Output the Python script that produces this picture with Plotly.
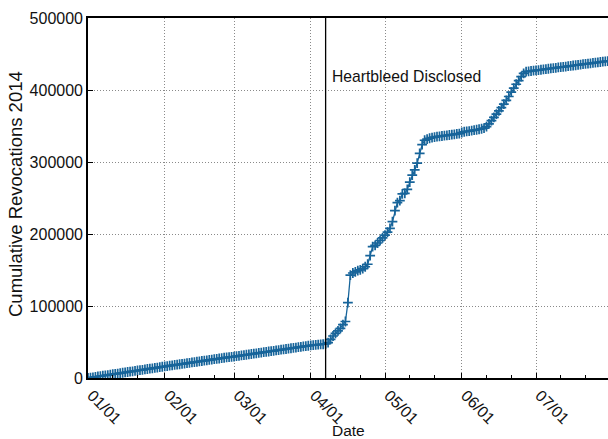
import plotly.graph_objects as go
import pandas as pd

start_date = "2014-01-01"
# cumulative revocations, one value per day starting 2014-01-01
jan = [0, 500, 1000, 1500, 2100, 2600, 3100, 3600, 4100, 4700, 5200, 5700, 6200, 6700, 7300, 7800,
       8300, 8800, 9300, 9900, 10400, 10900, 11400, 11900, 12500, 13000, 13500, 14000, 14500, 15100, 15600]
feb = [16100, 16600, 17100, 17600, 18100, 18600, 19100, 19600, 20100, 20600, 21100, 21600, 22100, 22600,
       23100, 23600, 24100, 24600, 25100, 25600, 26100, 26600, 27100, 27600, 28100, 28600, 29000, 29400]
mar = [29800, 30300, 30800, 31300, 31800, 32300, 32800, 33300, 33800, 34300, 34800, 35300, 35800, 36300,
       36800, 37300, 37800, 38300, 38800, 39300, 39800, 40300, 40800, 41300, 41800, 42300, 42800, 43300,
       43800, 44300, 44800]
apr = [45200, 45600, 46000, 46300, 46600, 46900, 47300, 49000, 53700, 58300, 62000, 65500, 69000, 74000,
       78500, 104600, 143000, 145800, 147500, 149000, 150300, 152000, 154500, 158000, 170000, 182400,
       184200, 187500, 191000, 194500]
may = [198500, 202500, 207900, 217100, 232400, 243500, 246300, 255600, 256500, 262000, 272000, 281900,
       289000, 298500, 312000, 324000, 330200, 331800, 333000, 333800, 334600, 335300, 335700, 336100,
       336500, 337000, 337500, 338000, 338500, 339000, 339500]
jun = [341000, 342000, 342500, 343000, 343600, 344200, 344800, 345500, 346200, 347000, 349000, 353000,
       357500, 362000, 366500, 371000, 375500, 380500, 385500, 391000, 397000, 402500, 408000, 413000,
       418500, 423000, 425500, 426000, 426400, 426800]
jul = [427200, 427700, 428100, 428600, 429000, 429500, 429900, 430400, 430800, 431300, 431700, 432200,
       432600, 433100, 433500, 434000, 434400, 434900, 435300, 435800, 436200, 436700, 437100, 437600,
       438000, 438500, 438900, 439400, 439800, 440200, 440600]

values = jan + feb + mar + apr + may + jun + jul
dates = pd.date_range(start_date, periods=len(values), freq="D")

month_ticks = ["2014-01-01", "2014-02-01", "2014-03-01", "2014-04-01", "2014-05-01", "2014-06-01", "2014-07-01"]
month_labels = ["01/01", "02/01", "03/01", "04/01", "05/01", "06/01", "07/01"]
minor_ticks = []
for m in range(1, 8):
    minor_ticks += [f"2014-{m:02d}-11", f"2014-{m:02d}-21"]
y_ticks = [0, 100000, 200000, 300000, 400000, 500000]
event_date = "2014-04-07"
event_label = "Heartbleed Disclosed"
x_title = "Date"
y_title = "Cumulative Revocations 2014"

color = "#17649a"
font = "Liberation Sans, Arial, sans-serif"
grid = dict(showgrid=True, gridcolor="#8a8a8a", griddash="1px,2px", gridwidth=1)

fig = go.Figure()
fig.add_trace(go.Scatter(
    x=dates, y=values, mode="lines+markers",
    line=dict(color=color, width=1.3),
    marker=dict(symbol="cross-thin", size=7, line=dict(color=color, width=1.7)),
    showlegend=False, cliponaxis=True,
))

fig.add_shape(type="line", xref="x", yref="paper", x0=event_date, x1=event_date, y0=0, y1=1,
              line=dict(color="black", width=1.3))
fig.add_annotation(x=event_date, y=419000, xref="x", yref="y", text=event_label, showarrow=False,
                   xanchor="left", yanchor="middle", xshift=4,
                   font=dict(family=font, size=15.7, color="#111"))
fig.add_annotation(x=0.5, y=0, xref="paper", yref="paper", text=x_title, showarrow=False,
                   xanchor="center", yanchor="middle", yshift=-52,
                   font=dict(family=font, size=15.5, color="#111"))
fig.add_annotation(x=0, y=0.5, xref="paper", yref="paper", text=y_title, showarrow=False,
                   textangle=-90, xanchor="center", yanchor="middle", xshift=-73, yshift=4,
                   font=dict(family=font, size=18.5, color="#111"))

fig.update_layout(
    width=608, height=439,
    margin=dict(l=88, r=0, t=18, b=61),
    paper_bgcolor="white", plot_bgcolor="white",
    font=dict(family=font, size=16, color="#111"),
    xaxis=dict(
        range=["2014-01-01", "2014-07-30 02:00"], automargin=False,
        tickmode="array", tickvals=month_ticks, ticktext=month_labels,
        tickangle=45, ticks="inside", ticklen=5, tickcolor="black", tickwidth=1,
        ticklabelshift=4,
        showline=True, linecolor="black", linewidth=1.6, mirror=True,
        minor=dict(tickmode="array", tickvals=minor_ticks, ticks="inside", ticklen=3,
                   tickcolor="black", showgrid=False),
        tickfont=dict(size=16), zeroline=False, **grid,
    ),
    yaxis=dict(
        range=[0, 500000], automargin=False,
        tickmode="array", tickvals=y_ticks, ticktext=[str(v) for v in y_ticks],
        ticks="inside", ticklen=5, tickcolor="black",
        showline=True, linecolor="black", linewidth=1.6, mirror=False,
        tickfont=dict(size=16), zeroline=False, **grid,
    ),
)

fig.write_html("out.html", config={"displayModeBar": False},
               post_script="document.body.style.margin='0';document.body.style.overflow='hidden';")
